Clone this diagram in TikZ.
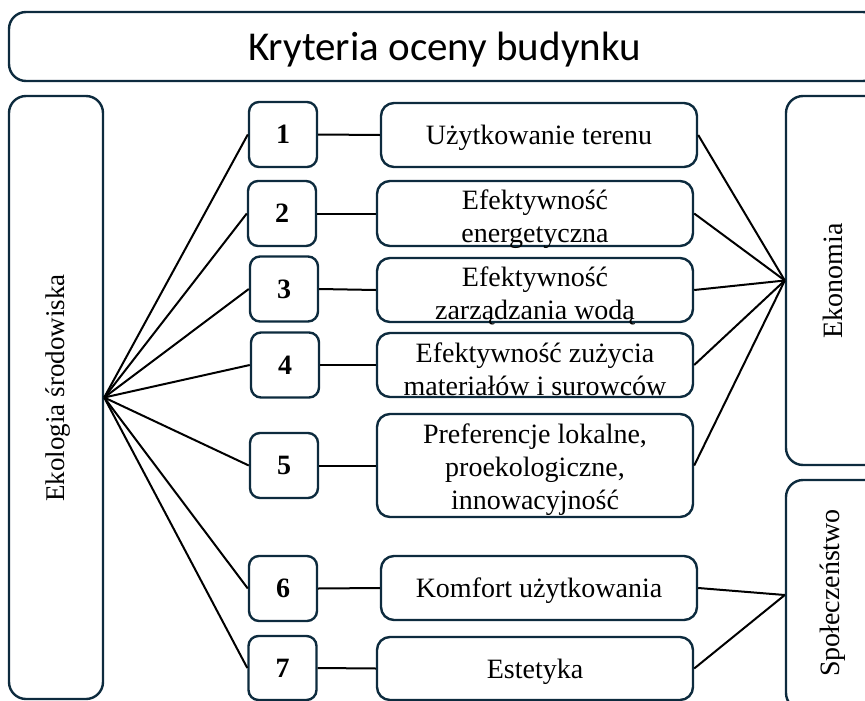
\documentclass[tikz,border=0pt]{standalone}
\usepackage{fontspec}
\setmainfont{Liberation Serif}
\newfontfamily\titlefont{Carlito}
\definecolor{boxline}{HTML}{0D2B3E}
\begin{document}
\begin{tikzpicture}[x=1pt,y=-1pt,
  box/.style={draw=boxline, line width=2.4pt, rounded corners=#1, inner sep=0pt},
  box/.default=12pt,
  numbox/.style={box=10pt, minimum width=68pt, minimum height=65pt,
    font=\fontsize{28}{33}\selectfont\bfseries},
  critbox/.style={box=13pt, minimum width=316pt, minimum height=64pt},
  crittext/.style={inner sep=0pt, align=center, font=\fontsize{28}{33}\selectfont},
  sidebox/.style={box=17pt},
  sidelabel/.style={rotate=90, inner sep=0pt, font=\fontsize{28}{33}\selectfont},
  link/.style={draw=black, line width=2pt}
]
\useasboundingbox (0,0) rectangle (865,701);
\clip (0,0) rectangle (865,701);

% title bar
\node[sidebox, minimum width=871pt, minimum height=69pt] (title) at (444.5,46.5) {};
\node[inner sep=0pt, font=\titlefont\fontsize{41}{48}\selectfont] (titletxt)
  at ([yshift=-3pt]title.center) {Kryteria oceny budynku};

% three pillars
\node[sidebox, minimum width=94pt, minimum height=603pt] (eco) at (56,397.5) {};
\node[sidelabel, font=\fontsize{27}{32}\selectfont] (ecolbl) at (58,388) {Ekologia środowiska};
\node[sidebox, minimum width=114pt, minimum height=369pt] (econ) at (843,280.5) {};
\node[sidelabel] (econlbl) at (833,281) {Ekonomia};
\node[sidebox, minimum width=114pt, minimum height=230pt] (soc) at (843,595) {};
\node[sidelabel] (soclbl) at (833,593) {Społeczeństwo};

% numbered criteria
\node[numbox] (n1) at (283,134.5) {1};
\node[numbox] (n2) at (282,213.5) {2};
\node[numbox] (n3) at (284,289) {3};
\node[numbox] (n4) at (285,365) {4};
\node[numbox] (n5) at (284,465.5) {5};
\node[numbox] (n6) at (283,588.5) {6};
\node[numbox, minimum height=64pt] (n7) at (282.5,668) {7};

% criterion boxes
\node[critbox] (t1) at (539,135) {};
\node[critbox, minimum height=65pt] (t2) at (535,213.5) {};
\node[critbox] (t3) at (535,290) {};
\node[critbox] (t4) at (535,365) {};
\node[critbox, minimum height=103pt] (t5) at (535,465.5) {};
\node[critbox] (t6) at (539,588) {};
\node[critbox, minimum height=63pt] (t7) at (535,668.5) {};

% criterion texts
\node[crittext] (t1txt) at ([yshift=-3pt]t1.center) {Użytkowanie terenu};
\node[crittext] (t2txt) at ([yshift=-6pt]t2.center) {Efektywność\\energetyczna};
\node[crittext] (t3txt) at ([yshift=-6pt]t3.center) {Efektywność\\zarządzania wodą};
\node[crittext] (t4txt) at ([yshift=-4pt]t4.center) {Efektywność zużycia\\materiałów i surowców};
\node[crittext] (t5txt) at ([yshift=-4pt]t5.center) {Preferencje lokalne,\\proekologiczne,\\innowacyjność};
\node[crittext] (t6txt) at ([yshift=-3pt]t6.center) {Komfort użytkowania};
\node[crittext] (t7txt) at ([yshift=-3pt]t7.center) {Estetyka};

% connectors
\foreach \i in {1,...,7} {
  \draw[link] (eco.east) -- (n\i.west);
  \draw[link] (n\i.east) -- (t\i.west);
}
\foreach \i in {1,...,5} {
  \draw[link] (t\i.east) -- (econ.west);
}
\foreach \i in {6,7} {
  \draw[link] (t\i.east) -- (soc.west);
}
\end{tikzpicture}
\end{document}
